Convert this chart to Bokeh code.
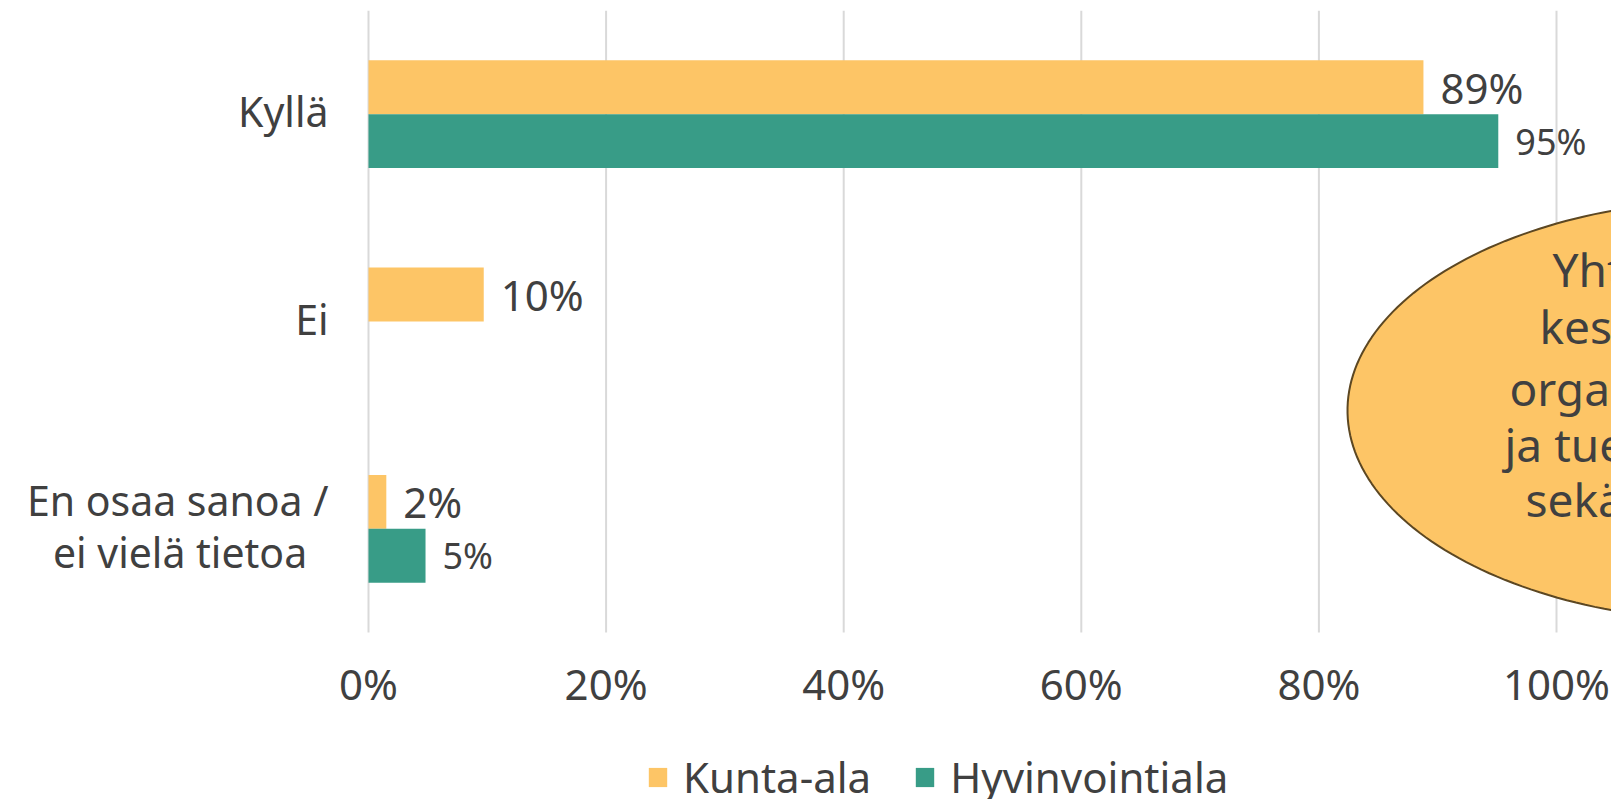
import numpy as np
from bokeh.plotting import figure
from bokeh.models import (Range1d, FixedTicker, PrintfTickFormatter, ColumnDataSource,
                          Legend, LegendItem)
from bokeh.core.properties import value
from bokeh.embed import file_html
from bokeh.resources import INLINE

# ---- data ----
categories = ["Kyllä", "Ei", "En osaa sanoa /\nei vielä tietoa"]
cat_pos = [2, 1, 0]
series_names = ["Kunta-ala", "Hyvinvointiala"]
kunta_ala = [88.8, 9.7, 1.5]
hyvinvointiala = [95.1, 0.0, 4.8]
x_ticks = [0, 20, 40, 60, 80, 100]
callout_lines = ["Yhteistyötä", "keskustelua", "organisaation", "ja tuen", "sekä"]

# ---- style ----
FONT = "Noto Sans"
TXT = "#404040"
ORANGE = "#FDC566"
TEAL = "#389C87"
GRID = "#D9D9D9"

W, H = 1611, 799
L = 334                 # frame left (px)
TOP, PLOT_BOTTOM = 10, 632   # vertical extent of the category area (px)
ZERO_PX = 368           # px of 0 %
PX_PER = 11.88          # px per percentage point
BAND = (PLOT_BOTTOM - TOP) / 3
LINE_STEP = 0.125       # half line spacing of two-line category labels (data units)
LABEL_LIFT = 3 / BAND   # small optical lift of category labels
x_start = -(ZERO_PX - L) / PX_PER
x_end = (W - ZERO_PX) / PX_PER
y_start = -0.5 - (H - PLOT_BOTTOM) / BAND

p = figure(width=W, height=H, output_backend="svg", toolbar_location=None,
           x_range=Range1d(x_start, x_end), y_range=Range1d(y_start, 2.5),
           min_border_left=L, min_border_right=0, min_border_top=TOP,
           min_border_bottom=0)
p.outline_line_color = None
p.background_fill_color = "white"
p.border_fill_color = "white"

# vertical gridlines, only over the category area
p.segment(x0=x_ticks, y0=[-0.5] * len(x_ticks), x1=x_ticks, y1=[2.5] * len(x_ticks),
          line_color=GRID, line_width=2)

BAR_H = 0.26
src_k = ColumnDataSource(dict(y=[c + BAR_H / 2 for c in cat_pos], v=kunta_ala,
                              lab=[f"{round(v)}%" if v > 0 else "" for v in kunta_ala]))
src_h = ColumnDataSource(dict(y=[c - BAR_H / 2 for c in cat_pos], v=hyvinvointiala,
                              lab=[f"{round(v)}%" if v > 0 else "" for v in hyvinvointiala]))

r_k = p.hbar(y="y", right="v", left=0, height=BAR_H, source=src_k,
             fill_color=ORANGE, line_color=None)
r_h = p.hbar(y="y", right="v", left=0, height=BAR_H, source=src_h,
             fill_color=TEAL, line_color=None)

p.text(x="v", y="y", text="lab", source=src_k, x_offset=17,
       text_font=value(FONT), text_font_size="42px", text_color=TXT,
       text_align="left", text_baseline="middle")
p.text(x="v", y="y", text="lab", source=src_h, x_offset=17,
       text_font=value(FONT), text_font_size="36px", text_color=TXT,
       text_align="left", text_baseline="middle")

# ---- callout ellipse (clipped at right edge, as in the original) ----
def page_y_to_data(py):
    return 2.5 - (py - TOP) / BAND

def page_x_to_data(px):
    return (px - ZERO_PX) / PX_PER

cx = page_x_to_data(1737)
cy = page_y_to_data(410)
a = 390 / PX_PER
b = 211 / BAND
t = np.linspace(0, 2 * np.pi, 240)
p.patch(cx + a * np.cos(t), cy + b * np.sin(t), fill_color=ORANGE,
        line_color="#5C4722", line_width=2)
line_x = [1552, 1539, 1509, 1504, 1525]
line_y = [268, 325, 387, 443, 498]
for txt, lx, ly in zip(callout_lines, line_x, line_y):
    p.text(x=[page_x_to_data(lx)], y=[page_y_to_data(ly)], text=[txt],
           text_font=value(FONT), text_font_size="46px", text_color=TXT,
           text_align="left", text_baseline="middle")

# ---- axes ----
p.xaxis.fixed_location = -0.5
p.xaxis.ticker = FixedTicker(ticks=x_ticks)
p.xaxis.formatter = PrintfTickFormatter(format="%d%%")
p.xaxis.axis_line_color = None
p.xaxis.major_tick_line_color = None
p.xaxis.minor_tick_line_color = None
p.xaxis.major_label_text_font = FONT
p.xaxis.major_label_text_font_size = "42px"
p.xaxis.major_label_text_color = TXT
p.xaxis.major_label_standoff = 16

# category labels: one tick per text line, lines of a label stacked around its category
y_label_ticks, y_label_text = [], {}
for pos, lab in zip(cat_pos, categories):
    lines = lab.split("\n")
    n = len(lines)
    for i, ln in enumerate(lines):
        tp = pos + (n - 1 - 2 * i) * LINE_STEP + LABEL_LIFT
        y_label_ticks.append(tp)
        # pad shorter lines so that the lines look centred under each other
        pad = "\u00a0\u00a0" if (n > 1 and i > 0) else ""
        y_label_text[tp] = ln + pad
p.yaxis.ticker = FixedTicker(ticks=y_label_ticks)
p.yaxis.major_label_overrides = y_label_text
p.yaxis.axis_line_color = None
p.yaxis.major_tick_line_color = None
p.yaxis.minor_tick_line_color = None
p.yaxis.major_label_text_font = FONT
p.yaxis.major_label_text_font_size = "41px"
p.yaxis.major_label_text_color = TXT
p.yaxis.major_label_standoff = 0

p.xgrid.grid_line_color = None
p.ygrid.grid_line_color = None

legend = Legend(items=[LegendItem(label=series_names[0], renderers=[r_k]),
                       LegendItem(label=series_names[1], renderers=[r_h])],
                orientation="horizontal", location=(646 - L, -6),
                label_text_font=FONT, label_text_font_size="42px",
                label_text_color=TXT, glyph_width=23, glyph_height=24,
                label_standoff=14, spacing=42, padding=0, margin=0,
                border_line_color=None, background_fill_alpha=0)
p.add_layout(legend)

open("out.html", "w").write(file_html(p, INLINE))
